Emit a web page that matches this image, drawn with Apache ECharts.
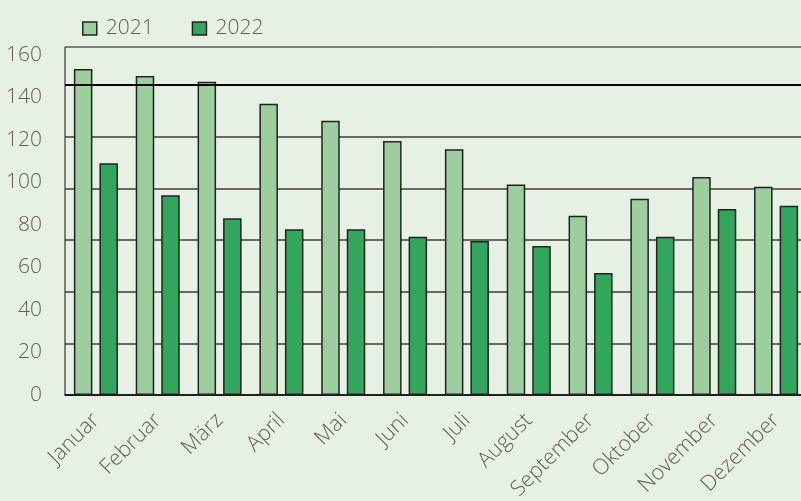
<!DOCTYPE html>
<html>
<head>
<meta charset="utf-8">
<script src="https://cdn.jsdelivr.net/npm/echarts@6/dist/echarts.min.js"></script>
<style>
  html, body { margin: 0; padding: 0; background: #e6f0e3; }
  #chart { width: 801px; height: 501px; }
</style>
</head>
<body>
<div id="chart"></div>
<script>
const months = ['Januar', 'Februar', 'März', 'April', 'Mai', 'Juni', 'Juli', 'August', 'September', 'Oktober', 'November', 'Dezember'];
const values2021 = [153.4, 150.1, 147.4, 137.0, 129.1, 119.5, 115.6, 99.0, 84.4, 92.4, 102.6, 98.0];
const values2022 = [109.0, 94.0, 83.2, 78.0, 78.0, 74.5, 72.5, 70.1, 57.4, 74.5, 87.5, 89.1];
const tickLabels = [0, 20, 40, 60, 80, 100, 120, 140, 160];

const textColor = '#5f5f55';
const font = 'Open Sans';

const chart = echarts.init(document.getElementById('chart'));
chart.setOption({
    backgroundColor: '#e6f0e3',
    animation: false,
    textStyle: {fontFamily: font},
    legend: {
        top: 13, left: 77,
        itemWidth: 14, itemHeight: 13, itemGap: 38,
        icon: 'rect',
        itemStyle: {borderColor: '#222', borderWidth: 1.5},
        textStyle: {fontSize: 21, fontWeight: 300, color: textColor, fontFamily: font, padding: [0, 0, 0, 4]},
        data: ['2021', '2022']
    },
    grid: {
        left: 65, width: 742, top: 47, height: 348,
        containLabel: false, outerBoundsMode: 'none',
        show: true, borderColor: '#111', borderWidth: 1, backgroundColor: 'transparent'
    },
    xAxis: {
        type: 'category',
        data: months,
        axisLine: {lineStyle: {color: '#000', width: 1.5}},
        axisTick: {show: false},
        axisLabel: {interval: 0, rotate: 45, margin: 22, fontSize: 21.5, fontWeight: 300, color: textColor, fontFamily: font}
    },
    yAxis: [{
        type: 'value',
        min: 0, max: 163.76, interval: 20,
        axisLine: {show: false},
        axisTick: {show: false},
        splitLine: {show: false},
        axisLabel: {
            margin: 23, fontSize: 21, fontWeight: 300, color: textColor, fontFamily: font,
            padding: [4, 0, 0, 0],
            formatter: v => tickLabels.indexOf(Math.round(v)) >= 0 && Math.abs(v - Math.round(v)) < 1e-6 ? String(v) : ''
        }
    }, {
        type: 'value',
        position: 'right',
        min: 0, max: 6.735, interval: 1,
        axisLine: {show: false},
        axisTick: {show: false},
        axisLabel: {show: false},
        splitLine: {show: true, showMinLine: false, showMaxLine: false, lineStyle: {color: '#3c3c3c', width: 1.5}}
    }],
    series: [{
        name: '2021',
        type: 'bar',
        barWidth: 18.5,
        barGap: '38%',
        itemStyle: {color: '#9dcf9e', borderColor: '#222', borderWidth: 1.5},
        data: values2021
    }, {
        name: '2022',
        type: 'bar',
        barWidth: 18.5,
        itemStyle: {color: '#33a65e', borderColor: '#222', borderWidth: 1.5},
        data: values2022
    }, {
        name: 'line',
        type: 'line',
        yAxisIndex: 1,
        data: [],
        silent: true,
        markLine: {
            symbol: 'none',
            label: {show: false},
            lineStyle: {color: '#000', width: 2, type: 'solid'},
            data: [{yAxis: 6}]
        }
    }]
});
</script>
</body>
</html>
